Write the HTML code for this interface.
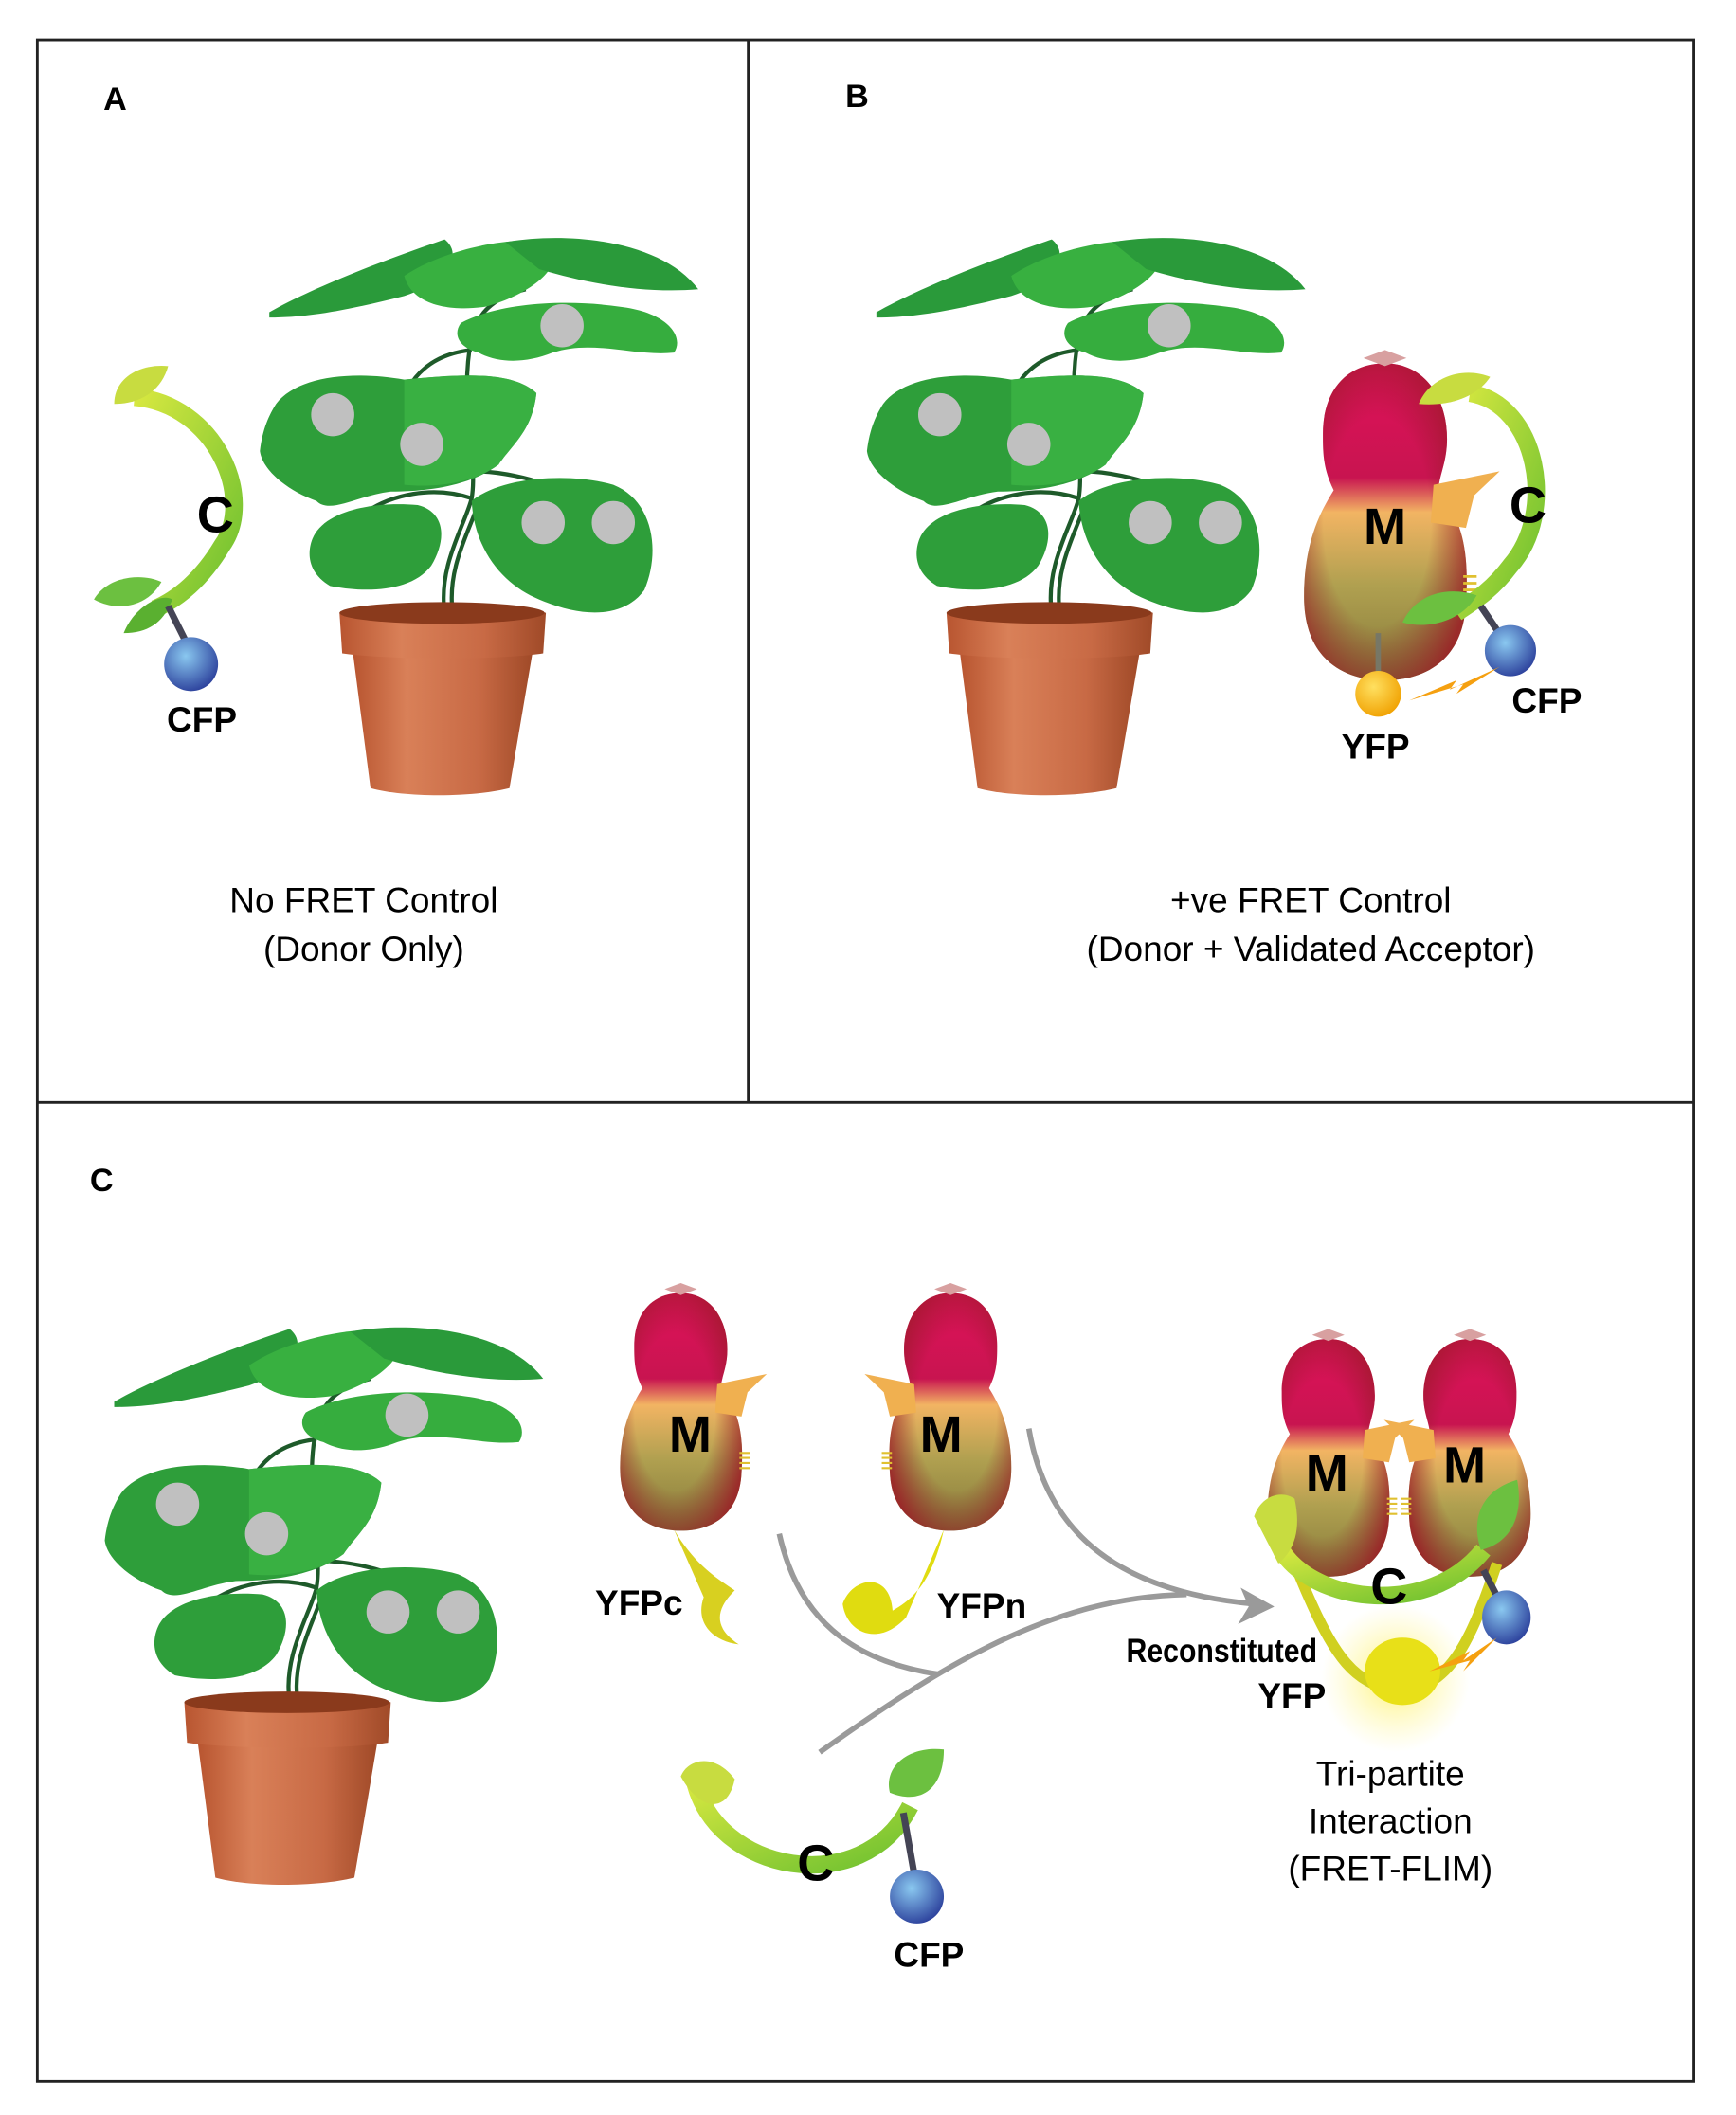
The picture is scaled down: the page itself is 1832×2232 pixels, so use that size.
<!DOCTYPE html>
<html><head><meta charset="utf-8"><style>
html,body{margin:0;padding:0;background:#fff}
svg{display:block}
text{font-family:"Liberation Sans",sans-serif}
</style></head><body>
<svg width="1832" height="2232" viewBox="0 0 1280 1560" xmlns="http://www.w3.org/2000/svg">
<defs>
<linearGradient id="mg" x1="0" y1="0" x2="0" y2="1">
<stop offset="0" stop-color="#e0125a"/><stop offset="0.36" stop-color="#c81450"/>
<stop offset="0.47" stop-color="#f2b463"/><stop offset="0.7" stop-color="#b0a050"/><stop offset="1" stop-color="#857a3a"/>
</linearGradient>
<radialGradient id="me" cx="0.45" cy="0.5" r="0.6">
<stop offset="0.55" stop-color="#8b1a25" stop-opacity="0"/><stop offset="1" stop-color="#9a1a25" stop-opacity="0.85"/>
</radialGradient>
<linearGradient id="cg" x1="0" y1="0" x2="1" y2="1">
<stop offset="0" stop-color="#d8e840"/><stop offset="1" stop-color="#6cc030"/>
</linearGradient>
<radialGradient id="blue" cx="0.4" cy="0.35" r="0.7"><stop offset="0" stop-color="#8ac8f0"/><stop offset="1" stop-color="#2a3e9a"/></radialGradient>
<radialGradient id="yel" cx="0.4" cy="0.35" r="0.7"><stop offset="0" stop-color="#ffe060"/><stop offset="1" stop-color="#f0a000"/></radialGradient>
<radialGradient id="glow" cx="0.5" cy="0.5" r="0.5"><stop offset="0" stop-color="#fff060" stop-opacity="0.9"/><stop offset="1" stop-color="#fff8a0" stop-opacity="0"/></radialGradient>
<linearGradient id="pot" x1="0" y1="0" x2="1" y2="0">
<stop offset="0" stop-color="#b85530"/><stop offset="0.3" stop-color="#d98058"/><stop offset="0.7" stop-color="#c86a45"/><stop offset="1" stop-color="#a04a28"/>
</linearGradient>
<g id="plant">
<path d="M330,455 C325,420 345,390 350,370 C355,340 340,300 350,250 C355,230 370,220 390,215" stroke="#1e5a2a" stroke-width="3" fill="none"/>
<path d="M336,455 C331,420 351,390 356,370" stroke="#1e5a2a" stroke-width="3" fill="none"/>
<path d="M350,370 C320,360 290,368 272,380 M352,350 C370,350 395,355 410,362 M350,260 C330,262 315,270 305,285" stroke="#1e5a2a" stroke-width="3" fill="none"/>
<path d="M200,232 C230,215 280,195 330,178 C345,190 330,210 300,220 C260,230 230,236 200,236 Z" fill="#2a9a3a"/>
<path d="M300,205 C330,185 380,175 410,180 C420,200 390,220 360,228 C330,232 305,225 300,205 Z" fill="#38b040"/>
<path d="M375,180 C420,172 490,178 518,215 C480,218 440,212 400,200 Z" fill="#2a9a3a"/>
<path d="M342,240 C370,225 420,222 460,228 C495,232 508,250 500,262 C470,265 440,252 410,262 C390,270 370,270 355,262 C340,258 336,248 342,240 Z" fill="#36ad3e"/>
<path d="M205,300 C220,280 260,275 300,282 C340,278 380,275 398,292 C395,320 380,330 370,345 C350,360 320,365 290,365 C265,368 245,382 235,372 C215,365 195,350 193,335 C195,318 200,308 205,300 Z" fill="#2e9e3a"/>
<path d="M300,282 C340,278 380,275 398,292 C395,320 380,330 370,345 C350,360 320,362 300,360 Z" fill="#3cb445" opacity="0.8"/>
<path d="M350,372 C370,355 420,350 455,360 C485,372 490,410 478,438 C462,460 430,458 400,445 C375,435 352,410 350,372 Z" fill="#2e9e3a"/>
<path d="M232,400 C240,380 275,372 310,375 C330,380 332,400 320,420 C305,440 270,440 245,435 C228,425 228,410 232,400 Z" fill="#2e9e3a"/>
<circle cx="247" cy="308" r="16" fill="#c0c0c0"/><circle cx="313" cy="330" r="16" fill="#c0c0c0"/>
<circle cx="403" cy="388" r="16" fill="#c0c0c0"/><circle cx="455" cy="388" r="16" fill="#c0c0c0"/>
<circle cx="417" cy="242" r="16" fill="#c0c0c0"/>
<path d="M262,485 L395,485 L378,585 C350,592 300,592 275,585 Z" fill="url(#pot)"/>
<path d="M252,455 C280,445 380,445 405,455 L403,485 C370,490 290,490 254,485 Z" fill="url(#pot)"/>
<ellipse cx="328" cy="455" rx="76" ry="8" fill="#8a3a1c"/>
</g>
<g id="M">
<path d="M0,-118 C30,-118 46,-92 46,-62 C46,-42 38,-32 40,-20 C60,-2 62,30 60,60 C58,100 32,117 0,117 C-32,117 -60,100 -60,55 C-60,15 -48,-8 -38,-24 C-46,-40 -46,-52 -46,-66 C-46,-96 -30,-118 0,-118 Z" fill="url(#mg)"/>
<path d="M0,-118 C30,-118 46,-92 46,-62 C46,-42 38,-32 40,-20 C60,-2 62,30 60,60 C58,100 32,117 0,117 C-32,117 -60,100 -60,55 C-60,15 -48,-8 -38,-24 C-46,-40 -46,-52 -46,-66 C-46,-96 -30,-118 0,-118 Z" fill="url(#me)"/>
<path d="M36,-28 L85,-38 L66,-20 L60,4 L34,0 Z" fill="#f0b050"/>
<path d="M-16,-122 L0,-128 L16,-122 L0,-116 Z" fill="#d8a0a0"/>
<path d="M58,40 h10 M58,45 h10 M58,50 h10 M58,55 h10" stroke="#e0c030" stroke-width="2"/>
</g>
</defs>
<g transform="translate(27.3,29.4) scale(0.995,0.9945) translate(-28,-30)">
<rect x="28" y="30" width="1228" height="1514" fill="none" stroke="#222" stroke-width="2"/>
<line x1="555" y1="30" x2="555" y2="818" stroke="#222" stroke-width="2"/>
<line x1="28" y1="818" x2="1256" y2="818" stroke="#222" stroke-width="2"/>
<text x="77" y="82" font-size="24" font-weight="bold">A</text>
<text x="627" y="80" font-size="24" font-weight="bold">B</text>
<text x="67" y="884" font-size="24" font-weight="bold">C</text>

<use href="#plant"/>
<use href="#plant" transform="translate(450,0)"/>
<use href="#plant" transform="translate(-115,808)"/>

<path d="M100,295 C160,300 190,370 165,405 C150,430 132,445 115,452" stroke="url(#cg)" stroke-width="13" fill="none"/>
<path d="M85,300 C85,280 105,270 125,272 C120,290 105,300 85,300 Z" fill="#c8dc40"/>
<path d="M70,445 C80,428 105,425 120,432 C110,450 88,455 70,445 Z" fill="#6cc040"/>
<path d="M92,470 C100,450 120,440 128,445 C122,462 110,470 92,470 Z" fill="#5ab030"/>
<line x1="125" y1="450" x2="140" y2="480" stroke="#445" stroke-width="5"/>
<circle cx="142" cy="493" r="20" fill="url(#blue)"/>
<text x="160" y="395" font-size="38" font-weight="bold" text-anchor="middle">C</text>
<text x="150" y="543" font-size="26" font-weight="bold" text-anchor="middle">CFP</text>
<text x="270" y="677" font-size="26" text-anchor="middle">No FRET Control</text>
<text x="270" y="713" font-size="26" text-anchor="middle">(Donor Only)</text>

<use href="#M" transform="translate(1027,388)"/>
<text x="1027" y="404" font-size="38" font-weight="bold" text-anchor="middle">M</text>
<path d="M1090,292 C1140,300 1155,380 1120,420 C1105,440 1090,448 1080,455" stroke="url(#cg)" stroke-width="13" fill="none"/>
<path d="M1052,300 C1060,280 1085,272 1105,280 C1095,295 1075,302 1052,300 Z" fill="#c8dc40"/>
<path d="M1040,462 C1050,440 1075,435 1095,442 C1085,460 1060,468 1040,462 Z" fill="#6cc040"/>
<text x="1133" y="388" font-size="38" font-weight="bold" text-anchor="middle">C</text>
<line x1="1098" y1="450" x2="1115" y2="475" stroke="#445" stroke-width="5"/>
<circle cx="1120" cy="483" r="19" fill="url(#blue)"/>
<line x1="1022" y1="470" x2="1022" y2="500" stroke="#776" stroke-width="4"/>
<circle cx="1022" cy="515" r="17" fill="url(#yel)"/>
<path d="M1045,520 L1080,505 L1075,512 L1112,495 L1080,515 L1085,508 Z" fill="#f5a010"/>
<text x="1020" y="563" font-size="26" font-weight="bold" text-anchor="middle">YFP</text>
<text x="1147" y="529" font-size="26" font-weight="bold" text-anchor="middle">CFP</text>
<text x="972" y="677" font-size="26" text-anchor="middle">+ve FRET Control</text>
<text x="972" y="713" font-size="26" text-anchor="middle">(Donor + Validated Acceptor)</text>

<use href="#M" transform="translate(505,1048) scale(0.75)"/>
<text x="512" y="1077" font-size="38" font-weight="bold" text-anchor="middle">M</text>
<path d="M500,1135 C515,1160 530,1170 545,1180 C535,1190 525,1205 548,1220 C530,1218 515,1205 522,1185 Z" fill="#d8d020"/>
<use href="#M" transform="translate(705,1048) scale(-0.75,0.75)"/>
<text x="698" y="1077" font-size="38" font-weight="bold" text-anchor="middle">M</text>
<path d="M700,1135 C692,1170 680,1185 662,1195 C660,1165 632,1170 625,1190 C628,1212 652,1222 672,1200 Z" fill="#e0dc10"/>
<text x="474" y="1198" font-size="26" font-weight="bold" text-anchor="middle">YFPc</text>
<text x="728" y="1200" font-size="26" font-weight="bold" text-anchor="middle">YFPn</text>

<path d="M578,1138 C592,1200 630,1232 695,1242" stroke="#9a9a9a" stroke-width="4" fill="none"/>
<path d="M608,1300 C700,1235 780,1185 880,1183" stroke="#9a9a9a" stroke-width="4" fill="none"/>
<path d="M763,1060 C775,1130 820,1180 930,1190" stroke="#9a9a9a" stroke-width="4" fill="none"/>
<path d="M945,1192 L920,1178 L926,1192 L918,1205 Z" fill="#9a9a9a"/>

<path d="M515,1320 C530,1390 640,1410 675,1340" stroke="url(#cg)" stroke-width="13" fill="none"/>
<path d="M505,1318 C510,1305 530,1300 545,1320 C540,1345 520,1345 505,1318 Z" fill="#c8dc40"/>
<path d="M660,1330 C655,1310 675,1295 700,1298 C700,1325 685,1340 660,1330 Z" fill="#6cc040"/>
<line x1="670" y1="1345" x2="678" y2="1390" stroke="#445" stroke-width="5"/>
<circle cx="680" cy="1407" r="20" fill="url(#blue)"/>
<text x="605" y="1395" font-size="38" font-weight="bold" text-anchor="middle">C</text>
<text x="689" y="1459" font-size="26" font-weight="bold" text-anchor="middle">CFP</text>

<circle cx="1035" cy="1245" r="55" fill="url(#glow)"/>
<use href="#M" transform="translate(985,1082) scale(0.75)"/>
<use href="#M" transform="translate(1090,1082) scale(-0.75,0.75)"/>
<text x="984" y="1106" font-size="38" font-weight="bold" text-anchor="middle">M</text>
<text x="1086" y="1100" font-size="38" font-weight="bold" text-anchor="middle">M</text>
<path d="M960,1160 C990,1235 1005,1250 1040,1255 C1075,1250 1090,1220 1110,1160" stroke="#d0d020" stroke-width="8" fill="none"/>
<ellipse cx="1040" cy="1240" rx="28" ry="25" fill="#e8e018"/>
<path d="M950,1150 C975,1190 1060,1200 1100,1150" stroke="url(#cg)" stroke-width="13" fill="none"/>
<path d="M930,1125 C935,1110 950,1105 960,1112 C965,1135 960,1150 948,1160 Z" fill="#c8dc40"/>
<path d="M1098,1150 C1090,1125 1100,1105 1125,1098 C1130,1125 1120,1145 1098,1150 Z" fill="#6cc040"/>
<line x1="1100" y1="1165" x2="1112" y2="1188" stroke="#445" stroke-width="5"/>
<ellipse cx="1117" cy="1200" rx="18" ry="20" fill="url(#blue)"/>
<path d="M1060,1240 L1090,1225 L1085,1232 L1110,1215 L1085,1240 L1090,1232 Z" fill="#f5a010"/>
<text x="1030" y="1190" font-size="38" font-weight="bold" text-anchor="middle">C</text>
<text x="906" y="1233" font-size="25" font-weight="bold" text-anchor="middle" transform="translate(906,0) scale(0.85,1) translate(-906,0)">Reconstituted</text>
<text x="958" y="1267" font-size="26" font-weight="bold" text-anchor="middle">YFP</text>
<text x="1031" y="1325" font-size="26" text-anchor="middle">Tri-partite</text>
<text x="1031" y="1360" font-size="26" text-anchor="middle">Interaction</text>
<text x="1031" y="1395" font-size="26" text-anchor="middle">(FRET-FLIM)</text>
</g>
</svg>
</body></html>
